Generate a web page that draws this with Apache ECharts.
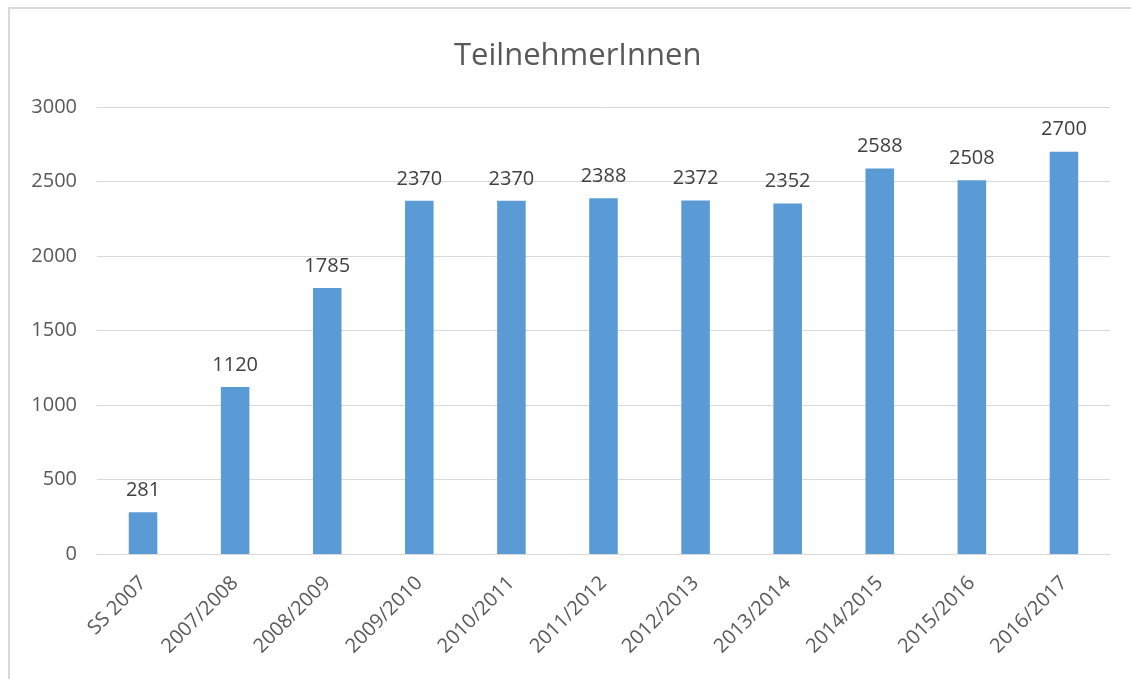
<!DOCTYPE html>
<html>
<head>
<meta charset="utf-8">
<script src="https://cdn.jsdelivr.net/npm/echarts@6/dist/echarts.min.js"></script>
<style>
html,body{margin:0;padding:0;background:#fff;}
#chart{width:1131px;height:679px;}
</style>
</head>
<body>
<div id="chart"></div>
<script>
const categories = ['SS 2007','2007/2008','2008/2009','2009/2010','2010/2011','2011/2012','2012/2013','2013/2014','2014/2015','2015/2016','2016/2017'];
const values = [281, 1120, 1785, 2370, 2370, 2388, 2372, 2352, 2588, 2508, 2700];
const titleText = 'TeilnehmerInnen';

const FONT = 'Open Sans';
const chart = echarts.init(document.getElementById('chart'));
chart.setOption({
  backgroundColor: '#fff',
  animation: false,
  graphic: [{
    type: 'rect',
    shape: {x: 9, y: 8, width: 1200, height: 800},
    style: {fill: 'none', stroke: '#D9D9D9', lineWidth: 2},
    silent: true
  }],
  title: {
    text: titleText,
    left: 449,
    top: 36,
    textStyle: {fontFamily: FONT, fontSize: 31, fontWeight: 'normal', color: '#595959'}
  },
  grid: {left: 97, right: 21, top: 107, bottom: 125, containLabel: false},
  xAxis: {
    type: 'category',
    data: categories,
    axisLine: {show: true, lineStyle: {color: '#D9D9D9', width: 1}},
    axisTick: {show: false},
    axisLabel: {rotate: 45, margin: 26, fontFamily: FONT, fontSize: 20, color: '#595959', interval: 0}
  },
  yAxis: {
    type: 'value',
    min: 0, max: 3000, interval: 500,
    axisLine: {show: false},
    axisTick: {show: false},
    splitLine: {lineStyle: {color: '#D9D9D9', width: 1}},
    axisLabel: {margin: 20, fontFamily: FONT, fontSize: 20, color: '#595959', formatter: v => String(v)}
  },
  series: [{
    type: 'bar',
    data: values,
    barWidth: '31%',
    itemStyle: {color: '#5B9BD5'},
    label: {show: true, position: 'top', distance: 12, fontFamily: FONT, fontSize: 20, color: '#404040'}
  }]
});
</script>
</body>
</html>
